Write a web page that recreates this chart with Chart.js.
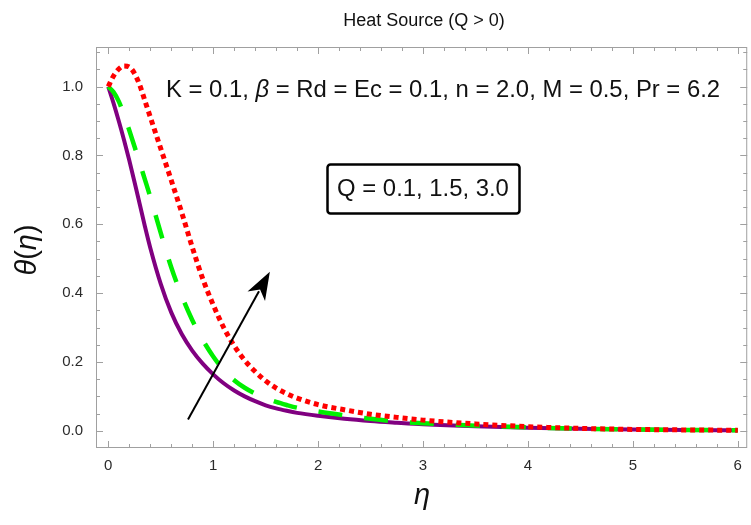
<!DOCTYPE html>
<html>
<head>
<meta charset="utf-8">
<script src="https://cdn.jsdelivr.net/npm/chart.js@4.4.0/dist/chart.umd.min.js"></script>
<style>
  body { margin: 0; background: #fff; }
  canvas { display: block; }
</style>
</head>
<body>
<canvas id="myChart" width="751" height="525"></canvas>
<script>
// eta grid and temperature profiles
var etaValues = [0, 0.05, 0.1, 0.15, 0.2, 0.25, 0.3, 0.35, 0.4, 0.5, 0.6, 0.7, 0.8, 0.9, 1.0, 1.1, 1.2, 1.3, 1.4, 1.5, 1.6, 1.7, 1.8, 2.0, 2.25, 2.5, 2.75, 3, 3.5, 4, 4.5, 5, 5.5, 6];
var thetaQ01 = [1.0, 0.952, 0.900, 0.845, 0.786, 0.723, 0.658, 0.593, 0.532, 0.427, 0.344, 0.281, 0.233, 0.195, 0.164, 0.138, 0.117, 0.1, 0.086, 0.074, 0.065, 0.058, 0.052, 0.0435, 0.035, 0.0285, 0.0235, 0.019, 0.013, 0.009, 0.006, 0.004, 0.0025, 0.0015];
var thetaQ15 = [1.0, 0.984, 0.957, 0.918, 0.873, 0.826, 0.778, 0.729, 0.68, 0.575, 0.475, 0.392, 0.322, 0.264, 0.216, 0.177, 0.147, 0.125, 0.108, 0.095, 0.084, 0.075, 0.067, 0.056, 0.045, 0.035, 0.027, 0.022, 0.015, 0.01, 0.006, 0.004, 0.0025, 0.0015];
var thetaQ30 = [1.0, 1.031, 1.051, 1.06, 1.057, 1.038, 1.004, 0.958, 0.912, 0.82, 0.728, 0.634, 0.534, 0.442, 0.366, 0.3, 0.247, 0.205, 0.172, 0.145, 0.124, 0.108, 0.095, 0.076, 0.061, 0.048, 0.039, 0.031, 0.02, 0.012, 0.007, 0.004, 0.0025, 0.0015];

var xTickValues = [0, 1, 2, 3, 4, 5, 6];
var yTickValues = [0.0, 0.2, 0.4, 0.6, 0.8, 1.0];

var titleText = "Heat Source (Q > 0)";
var paramsParts = ["K = 0.1, ", "\u03b2", " = Rd = Ec = 0.1, n = 2.0, M = 0.5, Pr = 6.2"];
var boxText = "Q = 0.1, 1.5, 3.0";
var arrowFrom = [0.76, 0.033];
var arrowTo = [1.54, 0.462];

function toPoints(ys) {
    var pts = [];
    for (var i = 0; i < etaValues.length; i++) {
        pts.push({ x: etaValues[i], y: ys[i] });
    }
    return pts;
}

var FONT = "'Liberation Sans', Arial, sans-serif";

// frame with inward ticks on all four sides, plus the text and arrow
var framePlugin = {
    id: "frame",
    afterDraw: function(chart) {
        var ctx = chart.ctx;
        var a = chart.chartArea;
        var xs = chart.scales.x, ys = chart.scales.y;
        ctx.save();
        ctx.strokeStyle = "#a0a0a0";
        ctx.lineWidth = 1;
        ctx.strokeRect(a.left + 0.5, a.top + 0.5, a.right - a.left - 1, a.bottom - a.top - 1);

        var v, p, len;
        ctx.beginPath();
        for (var k = 0; k <= 30; k++) {
            v = k * 0.2;
            p = Math.round(xs.getPixelForValue(v)) + 0.5;
            len = (k % 5 === 0) ? 7 : 4;
            ctx.moveTo(p, a.bottom); ctx.lineTo(p, a.bottom - len);
            ctx.moveTo(p, a.top); ctx.lineTo(p, a.top + len);
        }
        for (var j = -1; j <= 22; j++) {
            v = j * 0.05;
            p = Math.round(ys.getPixelForValue(v)) + 0.5;
            if (p < a.top || p > a.bottom) continue;
            len = (j % 4 === 0) ? 7 : 4;
            ctx.moveTo(a.left, p); ctx.lineTo(a.left + len, p);
            ctx.moveTo(a.right, p); ctx.lineTo(a.right - len, p);
        }
        ctx.stroke();

        // title
        ctx.fillStyle = "#111";
        ctx.textBaseline = "middle";
        ctx.textAlign = "center";
        ctx.font = "18px " + FONT;
        ctx.fillText(titleText, 424, 21);

        // parameter line, fitted to its width in the picture
        ctx.textAlign = "left";
        var size = 20;
        var fonts = ["", "italic ", ""];
        var w = 0;
        for (var i = 0; i < paramsParts.length; i++) {
            ctx.font = fonts[i] + size + "px " + FONT;
            w += ctx.measureText(paramsParts[i]).width;
        }
        size = size * 554 / w;
        var x0 = 166;
        for (i = 0; i < paramsParts.length; i++) {
            ctx.font = fonts[i] + size.toFixed(2) + "px " + FONT;
            ctx.fillText(paramsParts[i], x0, 90);
            x0 += ctx.measureText(paramsParts[i]).width;
        }

        // boxed Q label
        ctx.font = size.toFixed(2) + "px " + FONT;
        ctx.textAlign = "center";
        ctx.fillText(boxText, 423, 189);
        ctx.lineWidth = 2.5;
        ctx.strokeStyle = "#000";
        ctx.beginPath();
        ctx.roundRect(327.5, 164.5, 192, 49, 3);
        ctx.stroke();

        // arrow
        var ax = xs.getPixelForValue(arrowFrom[0]), ay = ys.getPixelForValue(arrowFrom[1]);
        var bx = xs.getPixelForValue(arrowTo[0]), by = ys.getPixelForValue(arrowTo[1]);
        var ang = Math.atan2(by - ay, bx - ax);
        var hl = 28, hw = 10;
        ctx.lineWidth = 2;
        ctx.beginPath();
        ctx.moveTo(ax, ay);
        ctx.lineTo(bx - Math.cos(ang) * hl * 0.8, by - Math.sin(ang) * hl * 0.8);
        ctx.stroke();
        ctx.fillStyle = "#000";
        ctx.beginPath();
        ctx.moveTo(bx, by);
        ctx.lineTo(bx - Math.cos(ang) * hl - Math.sin(ang) * hw, by - Math.sin(ang) * hl + Math.cos(ang) * hw);
        ctx.lineTo(bx - Math.cos(ang) * hl * 0.72, by - Math.sin(ang) * hl * 0.72);
        ctx.lineTo(bx - Math.cos(ang) * hl + Math.sin(ang) * hw, by - Math.sin(ang) * hl - Math.cos(ang) * hw);
        ctx.closePath();
        ctx.fill();

        // axis labels
        ctx.fillStyle = "#111";
        ctx.textAlign = "center";
        ctx.font = "italic 29px " + FONT;
        ctx.fillText("\u03b7", 422, 496);

        ctx.translate(28, 250);
        ctx.rotate(-Math.PI / 2);
        var parts = ["\u03b8", "(", "\u03b7", ")"];
        var pf = ["italic ", "", "italic ", ""];
        var fs = "29px ";
        var tw = 0;
        for (i = 0; i < parts.length; i++) {
            ctx.font = pf[i] + fs + FONT;
            tw += ctx.measureText(parts[i]).width;
        }
        ctx.textAlign = "left";
        var px = -tw / 2;
        for (i = 0; i < parts.length; i++) {
            ctx.font = pf[i] + fs + FONT;
            ctx.fillText(parts[i], px, 0);
            px += ctx.measureText(parts[i]).width;
        }
        ctx.restore();
    }
};

var ctx = document.getElementById("myChart").getContext("2d");
var myChart = new Chart(ctx, {
    type: "line",
    data: {
        datasets: [
            {
                label: "Q = 3.0",
                data: toPoints(thetaQ30),
                borderColor: "rgb(255, 0, 0)",
                borderWidth: 5,
                borderDash: [5, 4],
                order: 1
            },
            {
                label: "Q = 1.5",
                data: toPoints(thetaQ15),
                borderColor: "rgb(0, 240, 0)",
                borderWidth: 4.5,
                borderDash: [24, 22],
                order: 2
            },
            {
                label: "Q = 0.1",
                data: toPoints(thetaQ01),
                borderColor: "rgb(128, 0, 128)",
                borderWidth: 4,
                order: 3
            }
        ]
    },
    options: {
        responsive: false,
        animation: false,
        layout: { padding: { top: 47, right: 3, left: 0, bottom: 0 } },
        elements: {
            point: { radius: 0 },
            line: { cubicInterpolationMode: "monotone", borderCapStyle: "butt", fill: false }
        },
        plugins: {
            legend: { display: false },
            tooltip: { enabled: false },
            title: { display: false }
        },
        scales: {
            x: {
                type: "linear",
                min: -0.117,
                max: 6.09,
                grid: { display: false, drawTicks: false },
                border: { display: false },
                afterBuildTicks: function(scale) {
                    scale.ticks = xTickValues.map(function(v) { return { value: v }; });
                },
                afterFit: function(scale) { scale.height = 77; },
                ticks: {
                    padding: 9,
                    maxRotation: 0,
                    color: "#2b2b2b",
                    font: { family: FONT, size: 15 },
                    callback: function(v) { return String(v); }
                }
            },
            y: {
                type: "linear",
                min: -0.05,
                max: 1.115,
                grid: { display: false, drawTicks: false },
                border: { display: false },
                afterBuildTicks: function(scale) {
                    scale.ticks = yTickValues.map(function(v) { return { value: v }; });
                },
                afterFit: function(scale) { scale.width = 96; },
                ticks: {
                    padding: 13,
                    color: "#2b2b2b",
                    font: { family: FONT, size: 15 },
                    callback: function(v) { return Number(v).toFixed(1); }
                }
            }
        }
    },
    plugins: [framePlugin]
});
</script>
</body>
</html>
